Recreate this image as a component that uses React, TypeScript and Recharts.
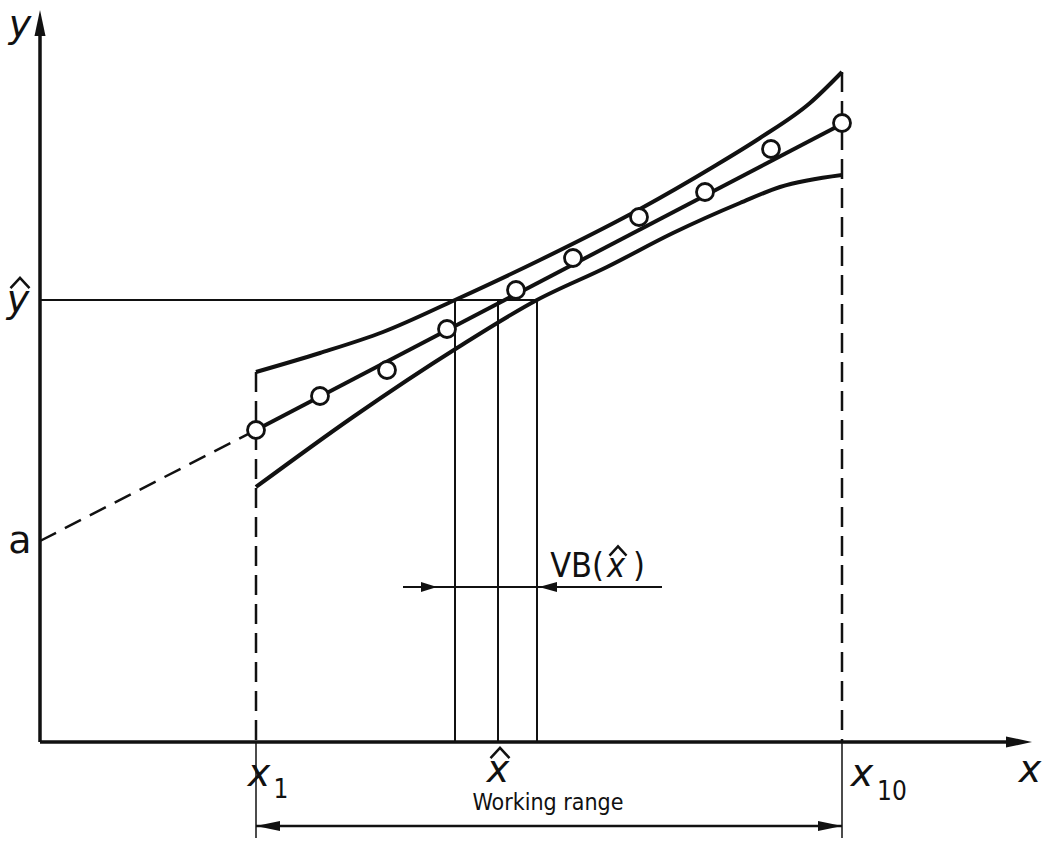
import {
  ComposedChart,
  Line,
  Scatter,
  XAxis,
  YAxis,
  ReferenceLine,
  ReferenceDot,
} from 'recharts';

// calibration points x1 .. x10
const pointX = [21.6, 28.0, 34.7, 40.7, 47.6, 53.3, 59.9, 66.5, 73.1, 80.2];
const pointY = [31.2, 34.6, 37.2, 41.3, 45.2, 48.4, 52.5, 55.0, 59.3, 61.9];

// regression line and its dashed extension back to the intercept a
const fitX = [21.6, 80.2];
const fitY = [31.2, 61.8];
const extX = [0, 21.6];
const extY = [20.1, 31.2];

// confidence band
const upperX = [21.6, 28.0, 34.3, 41.5, 50.0, 60.0, 67.3, 72.0, 77.0, 80.2];
const upperY = [37.0, 38.9, 41.0, 44.2, 48.2, 53.3, 57.5, 60.4, 63.9, 67.0];
const lowerX = [21.6, 31.3, 41.7, 49.7, 56.7, 63.3, 70.0, 74.0, 80.2];
const lowerY = [25.5, 32.5, 39.4, 44.2, 47.5, 50.9, 53.9, 55.5, 56.7];

// read-back of y-hat, x-hat and the interval VB(x-hat)
const yHat = 44.2;
const xHat = 45.8;
const vbLow = 41.5;
const vbHigh = 49.7;
const xFirst = 21.6;
const xLast = 80.2;
const xMax = 99;
const yMax = 73.2;

const INK = '#111';
const MATH = "'DejaVu Sans', sans-serif";
const PLAIN = "'Liberation Sans Narrow', 'DejaVu Sans Condensed', 'Liberation Sans', sans-serif";

const rows = (xs: number[], ys: number[]) => xs.map((x, i) => ({ x, y: ys[i] }));

type Label = {
  x: number;
  y: number;
  text: string;
  size: number;
  italic?: boolean;
  hat?: boolean;
  plain?: boolean;
  anchor?: 'start' | 'middle' | 'end';
};

const labels: Label[] = [
  { x: -2.0, y: 70.5, text: 'y', size: 38, italic: true },
  { x: -2.2, y: 43.0, text: 'y', size: 38, italic: true, hat: true },
  { x: -2.0, y: 18.9, text: 'a', size: 38 },
  { x: 99.0, y: -4.0, text: 'x', size: 38, italic: true },
  { x: 21.9, y: -4.4, text: 'x', size: 38, italic: true },
  { x: 24.1, y: -5.6, text: '1', size: 26, plain: true },
  { x: 45.8, y: -4.0, text: 'x', size: 38, italic: true, hat: true },
  { x: 82.2, y: -4.4, text: 'x', size: 38, italic: true },
  { x: 85.2, y: -5.8, text: '10', size: 26, plain: true },
  { x: 50.8, y: -6.8, text: 'Working range', size: 23, plain: true },
  { x: 56.4, y: 16.5, text: 'VB(', size: 34, plain: true, anchor: 'end' },
  { x: 57.6, y: 16.5, text: 'x', size: 34, italic: true, hat: true, plain: true },
  { x: 59.3, y: 16.5, text: ')', size: 34, plain: true, anchor: 'start' },
];

type Arrow = { x: number; y: number; dir: 'up' | 'right' | 'left'; len: number; half: number };

const arrows: Arrow[] = [
  { x: 0, y: yMax, dir: 'up', len: 26, half: 5.5 },
  { x: 99.2, y: 0, dir: 'right', len: 26, half: 5.5 },
  { x: 39.7, y: 15.5, dir: 'right', len: 16, half: 5 },
  { x: 49.9, y: 15.5, dir: 'left', len: 18, half: 5 },
  { x: xFirst, y: -8.4, dir: 'left', len: 24, half: 5 },
  { x: xLast, y: -8.4, dir: 'right', len: 24, half: 5 },
];

const labelShape = (l: Label) => (p: any) => {
  const { cx, cy } = p;
  const top = cy - l.size * 0.9;
  const bottom = cy - l.size * 0.63;
  const w = l.size * 0.5;
  const hx = cx + (l.italic ? 2 : 0);
  return (
    <g>
      <text
        x={cx}
        y={cy}
        textAnchor={l.anchor ?? 'middle'}
        fontSize={l.size}
        fontStyle={l.italic ? 'italic' : 'normal'}
        fontFamily={l.plain ? PLAIN : MATH}
        fill={INK}
      >
        {l.text}
      </text>
      {l.hat && (
        <polyline
          points={`${hx - w / 2},${bottom} ${hx},${top} ${hx + w / 2},${bottom}`}
          fill="none"
          stroke={INK}
          strokeWidth={2.5}
        />
      )}
    </g>
  );
};

const arrowShape = (a: Arrow) => (p: any) => {
  const { cx, cy } = p;
  let pts = '';
  if (a.dir === 'up') pts = `${cx},${cy} ${cx - a.half},${cy + a.len} ${cx + a.half},${cy + a.len}`;
  if (a.dir === 'right') pts = `${cx},${cy} ${cx - a.len},${cy - a.half} ${cx - a.len},${cy + a.half}`;
  if (a.dir === 'left') pts = `${cx},${cy} ${cx + a.len},${cy - a.half} ${cx + a.len},${cy + a.half}`;
  return <polygon points={pts} fill={INK} />;
};

const Ring = (p: any) => (
  <circle cx={p.cx} cy={p.cy} r={8.5} fill="#fff" stroke={INK} strokeWidth={2.8} />
);

export default function App() {
  return (
    <div style={{ position: 'absolute', left: 0, top: 0, background: '#fff' }}>
      <ComposedChart width={1042} height={867} margin={{ top: 10, right: 12, bottom: 125, left: 40 }}>
        <XAxis type="number" dataKey="x" domain={[0, xMax]} hide />
        <YAxis type="number" dataKey="y" domain={[0, yMax]} hide />

        {/* axes */}
        <ReferenceLine segment={[{ x: 0, y: 0 }, { x: 98, y: 0 }]} stroke={INK} strokeWidth={3.5} ifOverflow="visible" />
        <ReferenceLine segment={[{ x: 0, y: 0 }, { x: 0, y: 71 }]} stroke={INK} strokeWidth={3.5} ifOverflow="visible" />

        {/* y-hat read-back and the three verticals */}
        <ReferenceLine segment={[{ x: 0, y: yHat }, { x: vbHigh, y: yHat }]} stroke={INK} strokeWidth={2} ifOverflow="visible" />
        <ReferenceLine segment={[{ x: vbLow, y: yHat }, { x: vbLow, y: 0 }]} stroke={INK} strokeWidth={2} ifOverflow="visible" />
        <ReferenceLine segment={[{ x: xHat, y: yHat }, { x: xHat, y: 0 }]} stroke={INK} strokeWidth={2} ifOverflow="visible" />
        <ReferenceLine segment={[{ x: vbHigh, y: yHat }, { x: vbHigh, y: 0 }]} stroke={INK} strokeWidth={2} ifOverflow="visible" />

        {/* working range bounds */}
        <ReferenceLine segment={[{ x: xFirst, y: upperY[0] }, { x: xFirst, y: 0 }]} stroke={INK} strokeWidth={2.5} strokeDasharray="20 9" ifOverflow="visible" />
        <ReferenceLine segment={[{ x: xLast, y: upperY[upperY.length - 1] }, { x: xLast, y: 0 }]} stroke={INK} strokeWidth={2.5} strokeDasharray="20 9" ifOverflow="visible" />
        <ReferenceLine segment={[{ x: xFirst, y: 0 }, { x: xFirst, y: -9.6 }]} stroke={INK} strokeWidth={1.5} ifOverflow="visible" />
        <ReferenceLine segment={[{ x: xLast, y: 0 }, { x: xLast, y: -9.6 }]} stroke={INK} strokeWidth={1.5} ifOverflow="visible" />
        <ReferenceLine segment={[{ x: xFirst, y: -8.4 }, { x: xLast, y: -8.4 }]} stroke={INK} strokeWidth={2.5} ifOverflow="visible" />

        {/* VB(x-hat) dimension line */}
        <ReferenceLine segment={[{ x: 36.3, y: 15.5 }, { x: 62.2, y: 15.5 }]} stroke={INK} strokeWidth={2} ifOverflow="visible" />

        <Line data={rows(extX, extY)} dataKey="y" type="linear" stroke={INK} strokeWidth={2.5} strokeDasharray="18 10" dot={false} activeDot={false} isAnimationActive={false} />
        <Line data={rows(upperX, upperY)} dataKey="y" type="monotone" stroke={INK} strokeWidth={4} dot={false} activeDot={false} isAnimationActive={false} />
        <Line data={rows(lowerX, lowerY)} dataKey="y" type="monotone" stroke={INK} strokeWidth={4} dot={false} activeDot={false} isAnimationActive={false} />
        <Line data={rows(fitX, fitY)} dataKey="y" type="linear" stroke={INK} strokeWidth={4} dot={false} activeDot={false} isAnimationActive={false} />
        <Scatter data={rows(pointX, pointY)} dataKey="y" shape={Ring} isAnimationActive={false} />

        {arrows.map((a, i) => (
          <ReferenceDot key={`a${i}`} x={a.x} y={a.y} r={0} ifOverflow="visible" shape={arrowShape(a)} />
        ))}
        {labels.map((l, i) => (
          <ReferenceDot key={`l${i}`} x={l.x} y={l.y} r={0} ifOverflow="visible" shape={labelShape(l)} />
        ))}
      </ComposedChart>
    </div>
  );
}
